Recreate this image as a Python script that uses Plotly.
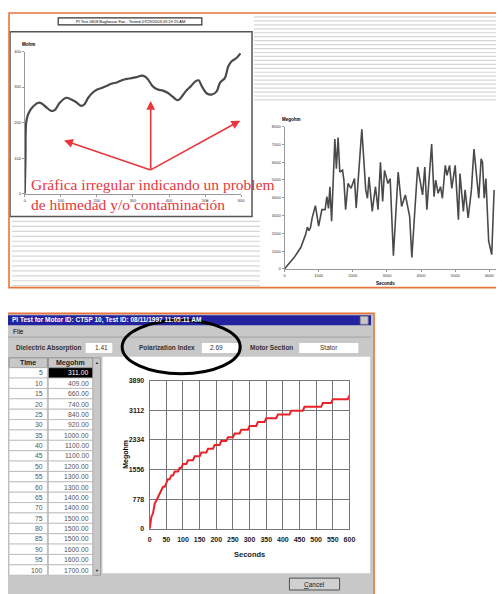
import plotly.graph_objects as go

# The page body has an 8 px margin; figure is sized so it fits in the 504x594 window.
OFF = 8
W, H = 504 - OFF, 594 - OFF
def X(px): return (px - OFF) / W
def Y(py): return 1 - (py - OFF) / H

# ---------------- data ----------------
# Top-left: irregular PI curve (Mohm vs seconds)
humid_seconds = [0, 2, 4, 9, 20, 38, 47, 61, 74, 83, 97, 115, 129, 142, 156, 165, 176, 188,
                 201, 215, 228, 242, 255, 269, 283, 296, 310, 324, 333, 342, 355, 369, 383,
                 396, 410, 424, 433, 446, 460, 473, 482, 491, 505, 518, 532, 541, 555, 564,
                 573, 586, 598]
humid_mohm = [0, 98, 200, 223, 242, 256, 254, 242, 233, 235, 256, 270, 265, 258, 247, 251, 270,
              284, 293, 298, 304, 310, 313, 319, 323, 325, 328, 332, 330, 321, 302, 293, 290,
              284, 273, 263, 270, 288, 302, 316, 319, 302, 282, 279, 288, 312, 326, 358, 372,
              381, 395]
humid_xticks = [0, 100, 200, 300, 400, 500, 600]
humid_yticks = [0, 100, 200, 300, 400]

# Top-right: noisy curve (Megohm vs seconds)
noisy_seconds = [0, 286, 476, 620, 670, 715, 760, 810, 905, 1000, 1095, 1190, 1240, 1290, 1330,
                 1380, 1475, 1520, 1570, 1620, 1700, 1740, 1790, 1860, 1950, 2050, 2100, 2265,
                 2380, 2430, 2475, 2570, 2665, 2740, 2810, 2875, 2930, 3030, 3095, 3190, 3330,
                 3430, 3540, 3665, 3730, 3900, 4045, 4110, 4170, 4310, 4380, 4430, 4500, 4570,
                 4625, 4710, 4760, 4835, 4900, 5000, 5095, 5140, 5240, 5290, 5380, 5475, 5550,
                 5690, 5760, 5800, 5850, 5900, 5980, 6070, 6140]
noisy_megohm = [0, 650, 1200, 1940, 2350, 2150, 2310, 2860, 3560, 2400, 3330, 3330, 4060, 3400,
                4620, 2680, 7300, 5640, 7390, 5450, 5550, 4990, 3330, 4800, 4530, 5080, 3420,
                7850, 4440, 3970, 5170, 3230, 4620, 3330, 6000, 3790, 5540, 4800, 5080, 740,
                5450, 3510, 4160, 2960, 650, 5730, 4160, 5730, 3330, 7020, 4060, 4990, 4250,
                4620, 3970, 5820, 5260, 5820, 4530, 5820, 2770, 5360, 3230, 4440, 2860, 4440,
                6740, 3970, 6190, 6000, 3970, 5080, 1570, 800, 4440]
noisy_xticks = [0, 1000, 2000, 3000, 4000, 5000, 6000]
noisy_yticks = [0, 1000, 2000, 3000, 4000, 5000, 6000, 7000, 8000]

# Bottom: PI test dialog (Megohm every 5 s)
pi_seconds = [0, 5, 10, 15, 20, 25, 30, 35, 40, 45, 50, 55, 60, 65, 70, 75, 80, 85, 90, 95, 100,
              105, 110, 115, 120, 125, 130, 135, 140, 145, 150, 155, 160, 165, 170, 175, 180,
              185, 190, 195, 200, 205, 210, 215, 220, 225, 230, 235, 240, 245, 250, 255, 260,
              265, 270, 275, 280, 285, 290, 295, 300, 305, 310, 315, 320, 325, 330, 335, 340,
              345, 350, 355, 360, 365, 370, 375, 380, 385, 390, 395, 400, 405, 410, 415, 420,
              425, 430, 435, 440, 445, 450, 455, 460, 465, 470, 475, 480, 485, 490, 495, 500,
              505, 510, 515, 520, 525, 530, 535, 540, 545, 550, 555, 560, 565, 570, 575, 580,
              585, 590, 595, 600]
pi_megohm = [0, 311, 409, 660, 740, 840, 920, 1000, 1100, 1100, 1200, 1300, 1300, 1400, 1400,
             1500, 1500, 1500, 1600, 1600, 1700,
             1700, 1700, 1800, 1800, 1800, 1800, 1900, 1900, 1900, 1900, 2000, 2000, 2000, 2000,
             2100, 2100, 2100, 2100, 2200, 2200,
             2200, 2200, 2300, 2300, 2300, 2300, 2400, 2400, 2400, 2400, 2500, 2500, 2500, 2500,
             2600, 2600, 2600, 2600, 2600, 2700,
             2700, 2700, 2700, 2700, 2800, 2800, 2800, 2800, 2800, 2900, 2900, 2900, 2900, 2900,
             2900, 2900, 3000, 3000, 3000, 3000,
             3000, 3000, 3000, 3000, 3100, 3100, 3100, 3100, 3100, 3100, 3100, 3100, 3200, 3200,
             3200, 3200, 3200, 3200, 3200, 3200,
             3200, 3200, 3200, 3300, 3300, 3300, 3300, 3300, 3300, 3400, 3400, 3400, 3400, 3400,
             3400, 3400, 3400, 3400, 3400, 3500]
pi_xticks = [0, 50, 100, 150, 200, 250, 300, 350, 400, 450, 500, 550, 600]
pi_yticks = [0, 778, 1556, 2334, 3112, 3890]
table_rows = 20  # rows visible in the list (5 s .. 100 s)

dielectric_absorption = "1.41"
polarization_index = "2.69"
motor_section = "Stator"

# ---------------- figure ----------------
fig = go.Figure()

fig.add_trace(go.Scatter(x=humid_seconds, y=humid_mohm, mode="lines", line=dict(color="#4a4a4a", width=2.2, shape="spline"),
                         xaxis="x", yaxis="y", hoverinfo="skip", showlegend=False))
fig.add_trace(go.Scatter(x=noisy_seconds, y=noisy_megohm, mode="lines", line=dict(color="#4a4a4a", width=1.6),
                         xaxis="x2", yaxis="y2", hoverinfo="skip", showlegend=False))
fig.add_trace(go.Scatter(x=pi_seconds, y=pi_megohm, mode="lines", line=dict(color="#e8232a", width=2),
                         xaxis="x3", yaxis="y3", hoverinfo="skip", showlegend=False))

shapes = []
annos = []

def rect(x0, y0, x1, y1, fill=None, line=None, lw=1, layer="below"):
    shapes.append(dict(type="rect", xref="paper", yref="paper", x0=X(x0), x1=X(x1), y0=Y(y1), y1=Y(y0),
                       fillcolor=fill if fill else "rgba(0,0,0,0)",
                       line=dict(color=line if line else "rgba(0,0,0,0)", width=lw if line else 0), layer=layer))

def hline(x0, x1, y, color, lw=1, layer="below"):
    shapes.append(dict(type="line", xref="paper", yref="paper", x0=X(x0), x1=X(x1), y0=Y(y), y1=Y(y),
                       line=dict(color=color, width=lw), layer=layer))

def text(x, y, s, size=7, color="#000", anchor="left", family="Liberation Sans", bold=False, **kw):
    if bold:
        s = "<b>" + s + "</b>"
    annos.append(dict(x=X(x), y=Y(y), xref="paper", yref="paper", text=s, showarrow=False,
                      xanchor=anchor, yanchor="middle", font=dict(size=size, color=color, family=family), **kw))

# ---- top panel ----
for yy in range(13, 99, 4):
    hline(256, 504, yy, "#d6d6d6", 1.2)
for yy in range(220, 286, 5):
    hline(10, 262, yy, "#d6d6d6", 1.2)
rect(266, 100, 504, 285, fill="white")
rect(8, 28, 254, 215, fill="white", line="#555555", lw=1.5)
rect(57, 14, 203, 21, fill="white", line="#333333", lw=1.2)
text(130, 17.5, "PI Test 0818 Baghouse Fan - Tested 07/29/2003 09:19:25 AM", size=4, anchor="center")
rect(7, 9, 512, 287, line="#e8743b", lw=1.6)
text(18, 41, "Mohm", size=4.5, bold=True)
text(294, 117, "Megohm", size=4.5, bold=True, anchor="center")
text(390, 283, "Seconds", size=4.5, bold=True, anchor="center")

text(27, 183, "Gráfica irregular indicando un problem", size=15.5, color="#e8363c", family="Liberation Serif")
text(27, 203, "de humedad y/o contaminación", size=15.5, color="#e8363c", family="Liberation Serif")

tail = (151, 168)
for hx, hy in [(63, 138), (151, 98), (242, 118)]:
    annos.append(dict(x=X(hx), y=Y(hy), xref="paper", yref="paper", text="", showarrow=True,
                      ax=tail[0] - hx, ay=tail[1] - hy, arrowhead=2, arrowsize=1.1, arrowwidth=1.6,
                      arrowcolor="#e8363c"))

# ---- bottom dialog ----
rect(3, 313, 378, 600, fill="#c8c8c8", line="#e8743b", lw=1.6)
rect(5, 315, 375, 325, fill="#2323a0")
text(8, 320, "PI Test for Motor ID: CTSP 10, Test ID: 08/11/1997 11:05:11 AM", size=6.5, color="white", bold=True)
rect(364, 316, 372, 324, fill="#c8c8c8", line="#888888", lw=0.8)
text(9, 331, "File", size=6.5)
hline(5, 375, 337, "#a0a0a0", 1)
text(12, 348, "Dielectric Absorption", size=6.5, bold=True, color="#333")
rect(85, 343, 112, 353, fill="white")
text(110, 348, dielectric_absorption, size=6.5, anchor="right", color="#333")
text(137, 348, "Polarization Index", size=6.5, bold=True, color="#333")
rect(203, 343, 240, 353, fill="white")
text(227, 348, polarization_index, size=6.5, anchor="right", color="#333")
text(250, 348, "Motor Section", size=6.5, bold=True, color="#333")
rect(302, 343, 362, 353, fill="white")
text(332, 348, motor_section, size=6.5, anchor="center", color="#333")

# table
rect(7, 358, 46, 368, fill="#c8c8c8", line="#808080", lw=0.8)
rect(47, 358, 92, 368, fill="#c8c8c8", line="#808080", lw=0.8)
rect(92, 358, 100, 578, fill="#c8c8c8", line="#909090", lw=0.8)
text(26, 363, "Time", size=7, bold=True, anchor="center", color="#222")
text(69, 363, "Megohm", size=7, bold=True, anchor="center", color="#222")
text(96, 363, "▲", size=4, anchor="center", color="#222")
text(96, 573, "▼", size=4, anchor="center", color="#222")
rh = 10.5
for i in range(table_rows):
    y0 = 368 + i * rh
    y1 = min(y0 + rh, 578)
    rect(7, y0, 46, y1, fill="white", line="#b0b0b0", lw=0.7)
    rect(47, y0, 92, y1, fill="black" if i == 0 else "white", line="#b0b0b0", lw=0.7)
    yc = y0 + rh / 2
    text(44, yc, str(pi_seconds[i + 1]), size=6.8, anchor="right", color="#555")
    text(90, yc, f"{pi_megohm[i + 1]:.2f}", size=6.8, anchor="right", color="white" if i == 0 else "#555")

# chart area
rect(102, 357, 374, 576, fill="white")
text(126, 456, "Megohm", size=7, bold=True, anchor="center", textangle=-90)
text(251, 557, "Seconds", size=7.5, bold=True, anchor="center", color="#222")
rect(292, 581, 343, 593, fill="#d0d0d0", line="#505050", lw=1)
text(317.5, 587, "<u>C</u>ancel", size=6.5, anchor="center", color="#222")

shapes.append(dict(type="circle", xref="paper", yref="paper", x0=X(122), x1=X(242), y0=Y(374), y1=Y(320),
                   line=dict(color="black", width=3), layer="above"))

tickfont_small = dict(size=4, color="#333", family="Liberation Sans")
tickfont_dlg = dict(size=7, color="#222", family="Liberation Sans", weight="bold")
fig.update_layout(
    width=W, height=H, margin=dict(l=0, r=0, t=0, b=0),
    paper_bgcolor="white", plot_bgcolor="rgba(0,0,0,0)",
    shapes=shapes, annotations=annos, showlegend=False,
    xaxis=dict(domain=[X(23), X(243)], range=[0, 600], anchor="y", tickvals=humid_xticks,
               showgrid=False, zeroline=False, showline=True, linecolor="#999", ticks="outside",
               ticklen=2, tickcolor="#999", tickfont=tickfont_small),
    yaxis=dict(domain=[Y(192), Y(48)], range=[0, 400], anchor="x", tickvals=humid_yticks,
               showgrid=False, zeroline=False, showline=True, linecolor="#999", ticks="outside",
               ticklen=2, tickcolor="#999", tickfont=tickfont_small),
    xaxis2=dict(domain=[X(287), 1.0], range=[0, 6254], anchor="y2", tickvals=noisy_xticks,
                showgrid=False, zeroline=False, showline=True, linecolor="#999", ticks="outside",
                ticklen=2, tickcolor="#999", tickfont=tickfont_small),
    yaxis2=dict(domain=[Y(268), Y(124)], range=[0, 8000], anchor="x2", tickvals=noisy_yticks,
                showgrid=False, zeroline=False, showline=True, linecolor="#999", ticks="outside",
                ticklen=2, tickcolor="#999", tickfont=tickfont_small),
    xaxis3=dict(domain=[X(150), X(353)], range=[0, 600], anchor="y3", tickvals=pi_xticks,
                showgrid=True, gridcolor="#777", gridwidth=1.2, zeroline=False, showline=True,
                linecolor="#777", linewidth=1.2, mirror=True, ticks="",
                tickfont=tickfont_dlg, ticklabelstandoff=4),
    yaxis3=dict(domain=[Y(531), Y(381)], range=[0, 3890], anchor="x3", tickvals=pi_yticks,
                showgrid=True, gridcolor="#777", gridwidth=1.2, zeroline=False, showline=True,
                linecolor="#777", linewidth=1.2, mirror=True, ticks="",
                tickfont=tickfont_dlg, ticklabelstandoff=3),
)

fig.write_html("out.html")
